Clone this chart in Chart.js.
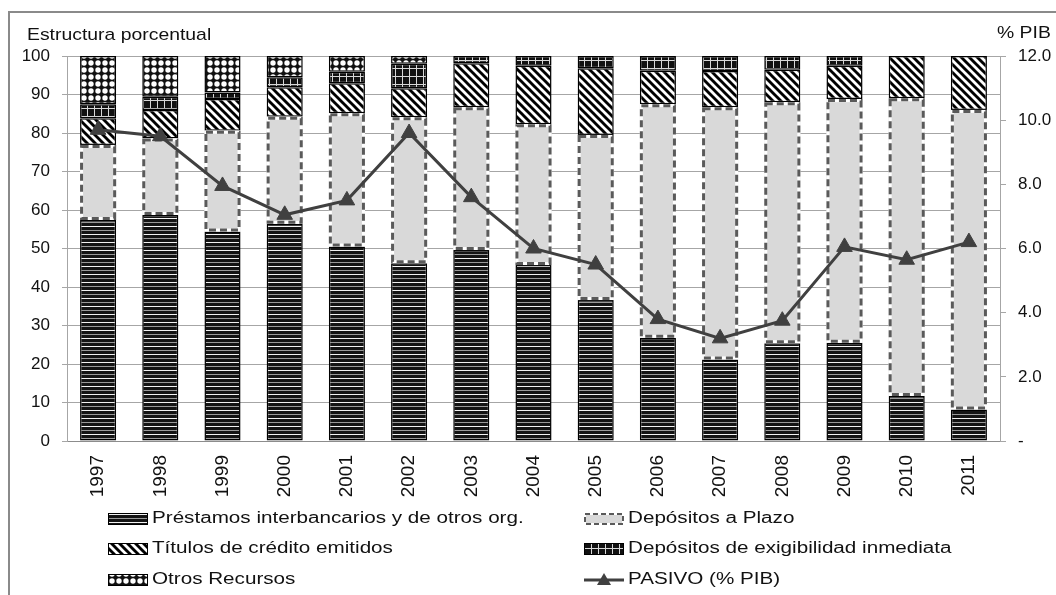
<!DOCTYPE html>
<html>
<head>
<meta charset="utf-8">
<script src="https://cdn.jsdelivr.net/npm/chart.js@4"></script>
<style>
    html, body { margin: 0; padding: 0; background: #fff; overflow: hidden; }
</style>
</head>
<body>
<canvas id="pasivo-chart" width="1056" height="595"></canvas>
<script>
const years = ['1997', '1998', '1999', '2000', '2001', '2002', '2003', '2004',
               '2005', '2006', '2007', '2008', '2009', '2010', '2011'];

// estructura porcentual del pasivo (%)
const prestamos   = [57.4, 58.7, 54.4, 56.4, 50.5, 46.2, 49.6, 45.7, 36.6, 26.8, 21.2, 25.4, 25.5, 11.7, 8.2];
const plazo       = [19.5, 19.9, 26.2, 27.8, 34.6, 37.9, 37.1, 36.6, 42.9, 60.7, 65.5, 62.6, 63.3, 77.3, 77.8];
const titulos     = [6.9, 7.4, 8.2, 7.7, 7.8, 7.5, 11.4, 15.2, 17.3, 8.7, 9.4, 8.4, 8.7, 11.0, 14.0];
const exigibilidad = [3.7, 3.4, 1.7, 2.6, 3.0, 6.4, 1.9, 2.5, 3.2, 3.8, 3.9, 3.6, 2.5, 0, 0];
const otros       = [12.5, 10.6, 9.5, 5.5, 4.1, 2.0, 0, 0, 0, 0, 0, 0, 0, 0, 0];

// pasivo total en % del PIB (eje derecho)
const pasivoPib = [9.7, 9.5, 7.95, 7.05, 7.5, 9.6, 7.6, 6.0, 5.5, 3.8, 3.2, 3.75, 6.05, 5.65, 6.2];

const FONT = "'Liberation Sans', Arial, sans-serif";
Chart.defaults.font.family = FONT;
Chart.defaults.font.size = 17;
Chart.defaults.color = '#111';

const canvas = document.getElementById('pasivo-chart');
const ctx = canvas.getContext('2d');

function tile(w, h, paint) {
    const c = document.createElement('canvas');
    c.width = w;
    c.height = h;
    paint(c.getContext('2d'), w, h);
    return ctx.createPattern(c, 'repeat');
}

// black with thin white / grey horizontal lines
const hLines = tile(4, 8, (g, w, h) => {
    g.fillStyle = '#141414';
    g.fillRect(0, 0, w, h);
    g.fillStyle = '#f2f2f2';
    g.fillRect(0, 2, w, 1);
    g.fillStyle = '#9a9a9a';
    g.fillRect(0, 6, w, 1);
});

// wide downward diagonal
const diag = tile(8, 8, (g, w, h) => {
    g.fillStyle = '#fff';
    g.fillRect(0, 0, w, h);
    g.strokeStyle = '#000';
    g.lineWidth = 2.9;
    for (let o = -8; o <= 8; o += 8) {
        g.beginPath();
        g.moveTo(o - 1, -1);
        g.lineTo(o + w + 1, h + 1);
        g.stroke();
    }
});

// black with a light grid
const grid = tile(7, 8, (g, w, h) => {
    g.fillStyle = '#111';
    g.fillRect(0, 0, w, h);
    g.fillStyle = '#d8d8d8';
    g.fillRect(3, 0, 1, h);
    g.fillRect(0, 4, w, 1);
});

// dark stars on white
const stars = tile(7, 7, (g, w, h) => {
    g.fillStyle = '#111';
    g.fillRect(0, 0, w, h);
    g.fillStyle = '#fff';
    [[0, 0], [w, 0], [0, h], [w, h]].forEach(([cx, cy]) => {
        g.beginPath();
        g.arc(cx, cy, 2.7, 0, Math.PI * 2);
        g.fill();
    });
});

const PLAZO_FILL = '#d9d9d9';
const DASH_COLOR = '#5a5a5a';
const LINE_COLOR = '#404040';

function dashedBox(c, left, top, w, h, lw, dash) {
    c.save();
    c.lineWidth = lw;
    c.strokeStyle = '#fff';
    c.strokeRect(left, top, w, h);
    c.setLineDash(dash);
    c.strokeStyle = DASH_COLOR;
    c.strokeRect(left, top, w, h);
    c.restore();
}

// text stretched sideways a little, like the spreadsheet export
function wideText(c, text, x, y, sx) {
    c.save();
    c.translate(x, y);
    c.scale(sx, 1);
    c.fillText(text, 0, 0);
    c.restore();
}

// outline the "Depósitos a Plazo" segments just before the line is drawn
const plazoOutline = {
    id: 'plazoOutline',
    beforeDatasetDraw(chart, args) {
        if (args.index !== 5) return;
        const meta = chart.getDatasetMeta(1);
        meta.data.forEach(bar => {
            const p = bar.getProps(['x', 'y', 'base', 'width'], true);
            const left = p.x - p.width / 2 + 1.5;
            const top = Math.min(p.y, p.base) + 1.5;
            const h = Math.abs(p.base - p.y) - 3;
            dashedBox(chart.ctx, left, top, p.width - 3, h, 3, [7, 4]);
        });
    }
};

const frame = {
    id: 'frame',
    beforeDraw(chart) {
        const c = chart.ctx;
        c.save();
        c.strokeStyle = '#8a8a8a';
        c.lineWidth = 2;
        c.beginPath();
        c.moveTo(9, 600);
        c.lineTo(9, 12);
        c.lineTo(1060, 12);
        c.stroke();
        c.fillStyle = '#111';
        c.font = '17px ' + FONT;
        c.textBaseline = 'middle';
        wideText(c, 'Estructura porcentual', 27, 35, 1.14);
        wideText(c, '% PIB', 997, 33, 1.14);
        c.restore();
    }
};

const legendRows = [
    { label: 'Préstamos interbancarios y de otros org.', fill: hLines, col: 0, row: 0 },
    { label: 'Depósitos a Plazo', fill: 'plazo', col: 1, row: 0 },
    { label: 'Títulos de crédito emitidos', fill: diag, col: 0, row: 1 },
    { label: 'Depósitos de exigibilidad inmediata', fill: grid, col: 1, row: 1 },
    { label: 'Otros Recursos', fill: stars, col: 0, row: 2 },
    { label: 'PASIVO (% PIB)', fill: 'line', col: 1, row: 2 }
];
const legendCols = [108, 584];
const legendYs = [519, 549, 580];

const legendBox = {
    id: 'legendBox',
    afterDraw(chart) {
        const c = chart.ctx;
        c.save();
        c.font = '16px ' + FONT;
        c.textBaseline = 'middle';
        legendRows.forEach(item => {
            const x = legendCols[item.col];
            const y = legendYs[item.row];
            if (item.fill === 'plazo') {
                c.fillStyle = PLAZO_FILL;
                c.fillRect(x, y - 6, 40, 12);
                dashedBox(c, x + 1, y - 5, 38, 10, 2, [5, 3]);
            } else if (item.fill === 'line') {
                c.strokeStyle = LINE_COLOR;
                c.lineWidth = 3;
                c.beginPath();
                c.moveTo(x, y);
                c.lineTo(x + 40, y);
                c.stroke();
                c.fillStyle = LINE_COLOR;
                c.beginPath();
                c.moveTo(x + 20, y - 7);
                c.lineTo(x + 27, y + 5);
                c.lineTo(x + 13, y + 5);
                c.closePath();
                c.fill();
            } else {
                c.fillStyle = item.fill;
                c.fillRect(x, y - 6, 40, 12);
                c.strokeStyle = '#000';
                c.lineWidth = 1;
                c.strokeRect(x + 0.5, y - 5.5, 39, 11);
            }
            c.fillStyle = '#111';
            wideText(c, item.label, x + 44, y, 1.29);
        });
        c.restore();
    }
};

function barSet(label, data, fill) {
    return {
        type: 'bar',
        label,
        data,
        backgroundColor: fill,
        borderColor: '#000',
        borderWidth: 1.5,
        borderSkipped: false,
        categoryPercentage: 1,
        barPercentage: 0.58,
        yAxisID: 'y'
    };
}

const plazoSet = barSet('Depósitos a Plazo', plazo, PLAZO_FILL);
plazoSet.borderWidth = 0;

new Chart(ctx, {
    data: {
        labels: years,
        datasets: [
            barSet('Préstamos interbancarios y de otros org.', prestamos, hLines),
            plazoSet,
            barSet('Títulos de crédito emitidos', titulos, diag),
            barSet('Depósitos de exigibilidad inmediata', exigibilidad, grid),
            barSet('Otros Recursos', otros, stars),
            {
                type: 'line',
                label: 'PASIVO (% PIB)',
                data: pasivoPib,
                yAxisID: 'y1',
                order: -1,
                borderColor: LINE_COLOR,
                borderWidth: 3,
                pointStyle: 'triangle',
                pointRadius: 9,
                pointBackgroundColor: LINE_COLOR,
                pointBorderColor: LINE_COLOR,
                pointBorderWidth: 1,
                tension: 0
            }
        ]
    },
    options: {
        responsive: false,
        animation: false,
        layout: { padding: { top: 56, left: 0, right: 0, bottom: 95 } },
        plugins: {
            legend: { display: false },
            tooltip: { enabled: false }
        },
        scales: {
            x: {
                stacked: true,
                offset: true,
                grid: { display: false, drawTicks: false },
                border: { display: true, color: '#8c8c8c' },
                ticks: { autoSkip: false, minRotation: 90, maxRotation: 90, padding: 14, font: { size: 19 } },
                afterFit(s) { s.height = 59; }
            },
            y: {
                stacked: true,
                min: 0,
                max: 100,
                ticks: { stepSize: 10, padding: 12 },
                grid: { color: '#a6a6a6', tickLength: 5 },
                border: { color: '#a6a6a6' },
                afterFit(s) { s.width = 67; }
            },
            y1: {
                position: 'right',
                min: 0,
                max: 12,
                ticks: {
                    stepSize: 2,
                    padding: 12,
                    callback: v => v === 0 ? '-' : v.toFixed(1)
                },
                grid: { drawOnChartArea: false, color: '#a6a6a6', tickLength: 6 },
                border: { color: '#a6a6a6' },
                afterFit(s) { s.width = 56; }
            }
        }
    },
    plugins: [frame, plazoOutline, legendBox]
});
</script>
</body>
</html>
